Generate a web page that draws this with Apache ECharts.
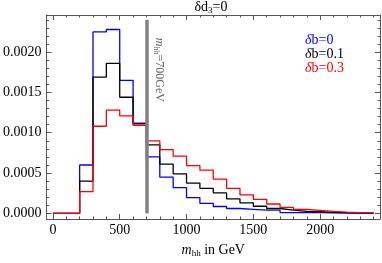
<!DOCTYPE html>
<html>
<head>
<meta charset="utf-8">
<script src="https://cdn.jsdelivr.net/npm/echarts@6/dist/echarts.min.js"></script>
<style>html,body{margin:0;padding:0;background:#fff}#c{width:382px;height:263px}</style>
</head>
<body>
<div id="c"></div>
<script>
// ---- data ----
const binEdges = [0,100,200,300,400,500,600,700,800,900,1000,1100,1200,1300,1400,1500,1600,1700,1800,1900,2000,2100,2200,2300,2400];
const seriesNames = ['δb=0', 'δb=0.1', 'δb=0.3'];
const blueVals  = [0,0,0.00060,0.00225,0.00228,0.00165,0.00112,0.00070,0.00045,0.00032,0.000194,0.000125,0.000085,0.00006,0.00005,0.00004,0.00004,0.00001,0.00001,0.000008,0.000006,0.000003,0.000002,0.000001];
const blackVals = [0,0,0.00040,0.00169,0.00186,0.00144,0.00111,0.00085,0.00061,0.00049,0.000375,0.00031,0.000254,0.00018,0.00013,0.000088,0.00006,0.00004,0.000025,0.00002,0.000012,0.000008,0.000005,0.000004];
const redVals   = [0,0,0.00027,0.00108,0.00128,0.00121,0.00109,0.00090,0.00079,0.00071,0.000593,0.000536,0.000424,0.00031,0.00023,0.000173,0.000116,0.000073,0.000048,0.000036,0.000024,0.000016,0.00001,0.000006];
const xMajorTicks = [0,500,1000,1500,2000];
const xMinorTicks = [0,100,200,300,400,500,600,700,800,900,1000,1100,1200,1300,1400,1500,1600,1700,1800,1900,2000,2100,2200,2300,2400];
const yMajorTicks = [0,0.0005,0.001,0.0015,0.002];
const yMinorTicks = [0,0.0001,0.0002,0.0003,0.0004,0.0005,0.0006,0.0007,0.0008,0.0009,0.001,0.0011,0.0012,0.0013,0.0014,0.0015,0.0016,0.0017,0.0018,0.0019,0.002,0.0021,0.0022,0.0023,0.0024];
const cutValue = 700;
const cutTop = 0.0024;
const colors = ['#0000ff', '#000000', '#ff0000'];

const X_MIN = -48, X_MAX = 2448, Y_MIN = -0.00007, Y_MAX = 0.00246;
const FONT = 'Liberation Serif';
const FRAME = '#555';

function steps(vals) {
  return binEdges.map((e, i) => [e, vals[Math.min(i, vals.length - 1)]]);
}

function xAx(pos, ticks, len, labels, lineShow) {
  return {
    type: 'value', position: pos, min: X_MIN, max: X_MAX,
    axisLine: { show: lineShow, onZero: false, lineStyle: { color: FRAME, width: 1 } },
    axisTick: { show: true, inside: true, length: len, customValues: ticks, lineStyle: { color: FRAME } },
    axisLabel: labels ? { show: true, customValues: ticks, color: '#000', fontSize: 14, fontFamily: FONT, margin: 4,
      formatter: v => String(Math.round(v)) } : { show: false },
    splitLine: { show: false }
  };
}
function yAx(pos, ticks, len, labels, lineShow) {
  return {
    type: 'value', position: pos, min: Y_MIN, max: Y_MAX,
    axisLine: { show: lineShow, onZero: false, lineStyle: { color: FRAME, width: 1 } },
    axisTick: { show: true, inside: true, length: len, customValues: ticks, lineStyle: { color: FRAME } },
    axisLabel: labels ? { show: true, customValues: ticks, color: '#000', fontSize: 14, fontFamily: FONT, margin: 5,
      formatter: v => v.toFixed(4) } : { show: false },
    splitLine: { show: false }
  };
}

const xAxes = [
  xAx('bottom', xMajorTicks, 5, true, true),
  xAx('bottom', xMinorTicks, 2.5, false, false),
  xAx('top', xMajorTicks, 5, false, true),
  xAx('top', xMinorTicks, 2.5, false, false)
];
xAxes[0].name = '{i|m}{s|hh}{n| in GeV}';
xAxes[0].nameLocation = 'middle';
xAxes[0].nameGap = 24;
xAxes[0].nameTextStyle = {
  color: '#000', fontFamily: FONT, fontSize: 14,
  rich: {
    i: { fontFamily: FONT, fontSize: 14, fontStyle: 'italic', verticalAlign: 'top', lineHeight: 14, color: '#000' },
    s: { fontFamily: FONT, fontSize: 9, verticalAlign: 'top', lineHeight: 14, padding: [6, 0, 0, 0], color: '#000' },
    n: { fontFamily: FONT, fontSize: 14, verticalAlign: 'top', lineHeight: 14, color: '#000' }
  }
};

const yAxes = [
  yAx('left', yMajorTicks, 5, true, true),
  yAx('left', yMinorTicks, 2.5, false, false),
  yAx('right', yMajorTicks, 5, false, true),
  yAx('right', yMinorTicks, 2.5, false, false)
];

const series = [blueVals, blackVals, redVals].map((vals, k) => ({
  name: seriesNames[k], type: 'line', step: 'end', symbol: 'none',
  xAxisIndex: 0, yAxisIndex: 0,
  data: steps(vals),
  lineStyle: { color: colors[k], width: 1.3 },
  itemStyle: { color: colors[k] },
  z: 2 + k
}));

series[2].markLine = {
  silent: true, symbol: 'none', z: 10,
  lineStyle: { color: '#808080', width: 3.5, type: 'solid' },
  label: {
    show: true, position: 'insideStartTop', distance: [18, 7],
    formatter: '{i|m}{s|hh}{n|=700GeV}',
    color: '#666',
    rich: {
      i: { fontFamily: FONT, fontSize: 12, fontStyle: 'italic', verticalAlign: 'top', lineHeight: 12, color: '#666' },
      s: { fontFamily: FONT, fontSize: 8, verticalAlign: 'top', lineHeight: 12, padding: [5, 0, 0, 0], color: '#666' },
      n: { fontFamily: FONT, fontSize: 12, verticalAlign: 'top', lineHeight: 12, color: '#666' }
    }
  },
  data: [[{ coord: [cutValue, cutTop] }, { coord: [cutValue, 0] }]]
};

const chart = echarts.init(document.getElementById('c'), null, { renderer: 'canvas' });
chart.setOption({
  animation: false,
  backgroundColor: '#fff',
  textStyle: { fontFamily: FONT },
  grid: { left: 43, right: 2, top: 15, bottom: 39 },
  title: {
    text: '{a|δd}{s|3}{a|=0}',
    left: 211, top: 0, padding: 0, textAlign: 'center',
    textStyle: {
      fontFamily: FONT, fontSize: 14, fontWeight: 'normal', color: '#000',
      rich: {
        a: { fontFamily: FONT, fontSize: 14, verticalAlign: 'top', lineHeight: 14, color: '#000' },
        s: { fontFamily: FONT, fontSize: 9, verticalAlign: 'top', lineHeight: 14, padding: [6, 0, 0, 0], color: '#000' }
      }
    }
  },
  legend: {
    orient: 'vertical', left: 300, top: 33, padding: 0, itemGap: 0,
    itemWidth: 0, itemHeight: 13, icon: 'none', selectedMode: false,
    formatter: name => '{d|δ}' + name.slice(1),
    data: seriesNames.map((n, k) => ({
      name: n, icon: 'none',
      textStyle: { color: colors[k], fontFamily: FONT, fontSize: 14,
        rich: { d: { fontStyle: 'italic', fontFamily: FONT, fontSize: 14, color: colors[k] } } }
    })),
    textStyle: { fontFamily: FONT, fontSize: 14 }
  },
  xAxis: xAxes,
  yAxis: yAxes,
  series: series
});
</script>
</body>
</html>
